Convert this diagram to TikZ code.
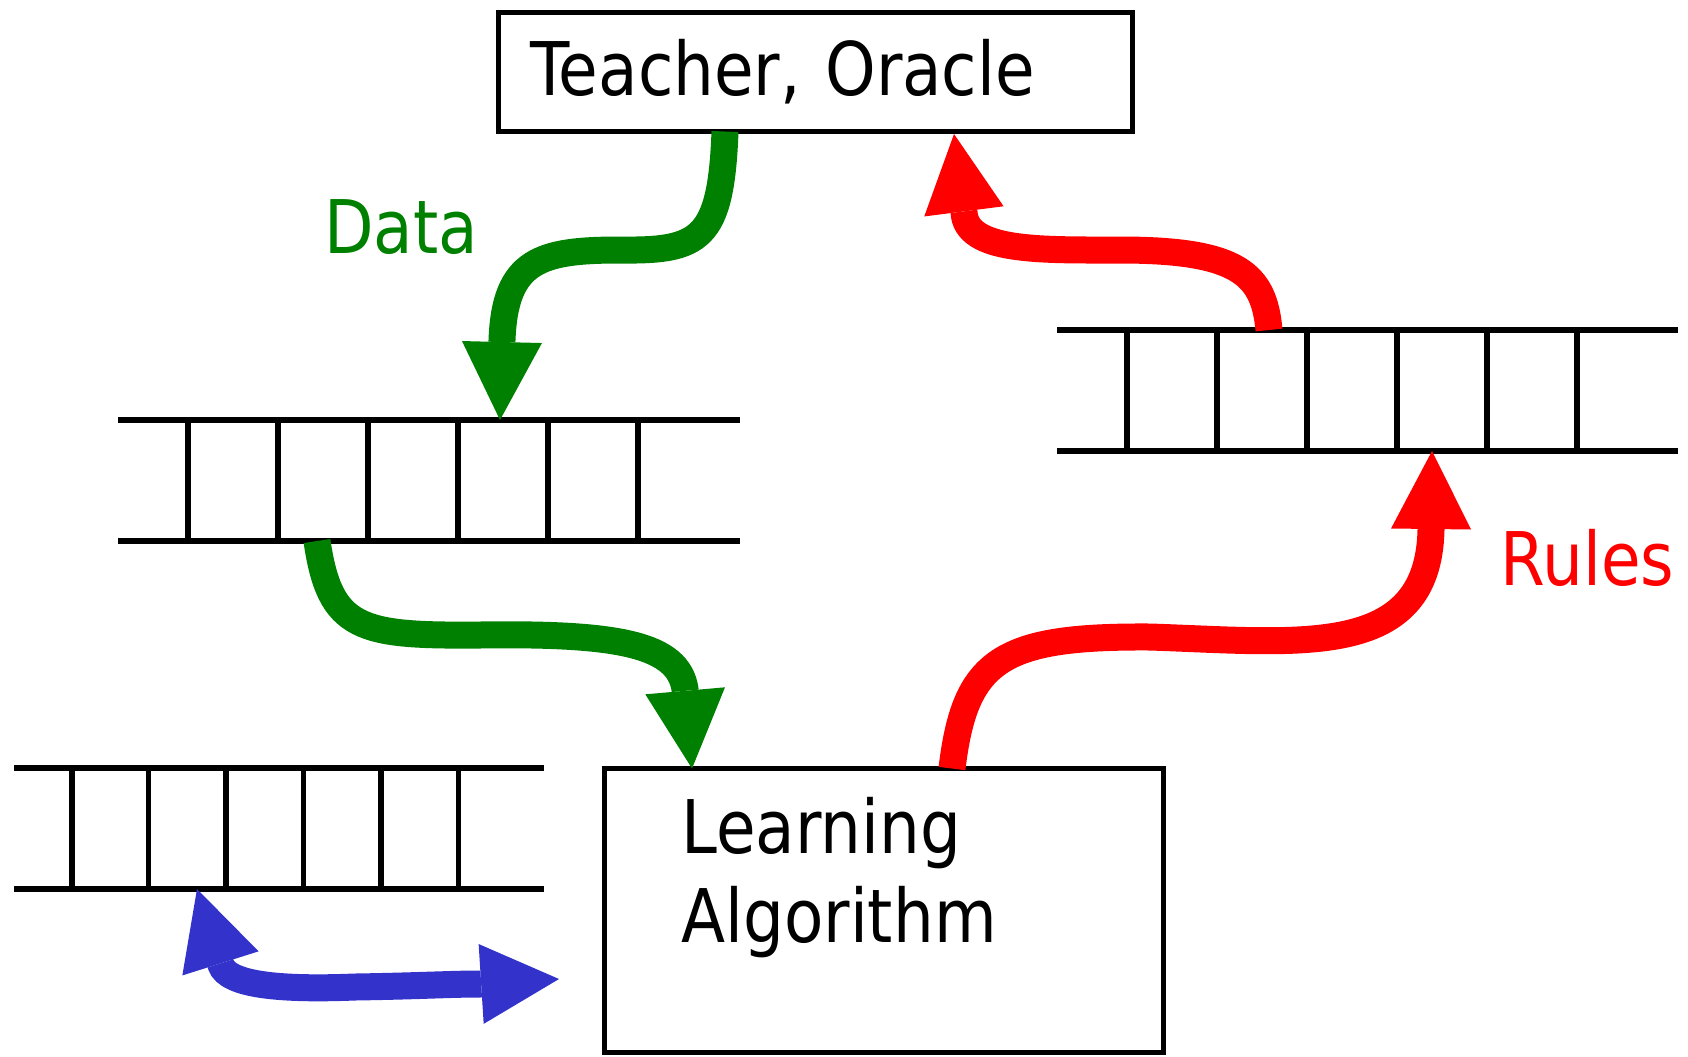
\documentclass[tikz,border=0pt]{standalone}
\usepackage{fontspec}
\newfontfamily\diagfont[FakeStretch=0.87]{DejaVu Sans}
\usetikzlibrary{arrows.meta}
\definecolor{datagreen}{RGB}{0,128,0}
\definecolor{rulered}{RGB}{255,0,0}
\definecolor{memblue}{RGB}{51,51,204}

\begin{document}
\begin{tikzpicture}[x=0.5pt, y=-0.5pt,
    box/.style={draw, line width=2.5pt, inner sep=0pt, outer sep=0pt},
    queue/.style={inner sep=0pt, outer sep=0pt, minimum height=60.5pt},
    rail/.style={line width=2.75pt},
    flow/.style={line width=13.5pt, ->, >={Triangle[length=39pt, width=40pt, line width=0pt]}},
    txt/.style={font=\diagfont\fontsize{37pt}{44.2pt}\selectfont, inner sep=0pt}]
    \useasboundingbox (0,0) rectangle (1688,1056);

    \node[box, txt, inner xsep=16pt, anchor=north west, minimum width=316.75pt, minimum height=59.5pt, text width=284.75pt, align=left] (teacher) at (498.5,12.5) {Teacher, Oracle};
    \node[box, anchor=north west, minimum width=279.5pt, minimum height=141.75pt] (learner) at (604,768.5) {};
    \node[txt, anchor=base west, align=left] (learntext) at (681,942) {Learning\\Algorithm};

    \node[queue, anchor=north west, minimum width=311pt] (queue1) at (118,420) {};
    \draw[rail] (queue1.north west) -- (queue1.north east);
    \draw[rail] (queue1.south west) -- (queue1.south east);
    \draw[rail] ([xshift=35pt]queue1.north west) -- ([xshift=35pt]queue1.south west);
    \draw[rail] ([xshift=80pt]queue1.north west) -- ([xshift=80pt]queue1.south west);
    \draw[rail] ([xshift=125pt]queue1.north west) -- ([xshift=125pt]queue1.south west);
    \draw[rail] ([xshift=170pt]queue1.north west) -- ([xshift=170pt]queue1.south west);
    \draw[rail] ([xshift=215pt]queue1.north west) -- ([xshift=215pt]queue1.south west);
    \draw[rail] ([xshift=260pt]queue1.north west) -- ([xshift=260pt]queue1.south west);

    \node[queue, anchor=north west, minimum width=310.5pt] (queue2) at (1057,330) {};
    \draw[rail] (queue2.north west) -- (queue2.north east);
    \draw[rail] (queue2.south west) -- (queue2.south east);
    \draw[rail] ([xshift=35pt]queue2.north west) -- ([xshift=35pt]queue2.south west);
    \draw[rail] ([xshift=80pt]queue2.north west) -- ([xshift=80pt]queue2.south west);
    \draw[rail] ([xshift=125pt]queue2.north west) -- ([xshift=125pt]queue2.south west);
    \draw[rail] ([xshift=170pt]queue2.north west) -- ([xshift=170pt]queue2.south west);
    \draw[rail] ([xshift=215pt]queue2.north west) -- ([xshift=215pt]queue2.south west);
    \draw[rail] ([xshift=260pt]queue2.north west) -- ([xshift=260pt]queue2.south west);

    \node[queue, anchor=north west, minimum width=265pt] (queue3) at (14,768) {};
    \draw[rail] (queue3.north west) -- (queue3.north east);
    \draw[rail] (queue3.south west) -- (queue3.south east);
    \draw[rail] ([xshift=29pt]queue3.north west) -- ([xshift=29pt]queue3.south west);
    \draw[rail] ([xshift=67.25pt]queue3.north west) -- ([xshift=67.25pt]queue3.south west);
    \draw[rail] ([xshift=106pt]queue3.north west) -- ([xshift=106pt]queue3.south west);
    \draw[rail] ([xshift=144.75pt]queue3.north west) -- ([xshift=144.75pt]queue3.south west);
    \draw[rail] ([xshift=183.5pt]queue3.north west) -- ([xshift=183.5pt]queue3.south west);
    \draw[rail] ([xshift=222.25pt]queue3.north west) -- ([xshift=222.25pt]queue3.south west);

    \node[txt, text=datagreen, anchor=base west] (datalabel) at (324,253) {Data};
    \node[txt, text=rulered, anchor=base west] (ruleslabel) at (1500,585) {Rules};
    \coordinate (memport) at (559,979);

    \draw[flow, datagreen] ([xshift=113.25pt]teacher.south west) .. controls (721,240) and (700,251) .. (620,250) .. controls (540,250) and (505,260) .. (502,340) -- ([xshift=191pt]queue1.north west);
    \draw[flow, datagreen] ([xshift=99.5pt]queue1.south west) .. controls (330,630) and (360,636) .. (480,635) .. controls (620,633) and (678,645) .. (685,689) -- ([xshift=44pt]learner.north west);
    \draw[flow, rulered] ([xshift=174pt]learner.north west) .. controls (965,660) and (1000,636) .. (1150,637) .. controls (1300,642) and (1428,660) .. (1431,530) -- ([xshift=187.5pt]queue2.south west);
    \draw[flow, rulered] ([xshift=106pt]queue2.north west) .. controls (1264,275) and (1240,250) .. (1120,250) .. controls (1040,250) and (966,252) .. (964,212) -- ([xshift=227.75pt, yshift=-1.25pt]teacher.south west);
    \draw[flow, memblue, <->] ([xshift=91.5pt]queue3.south west) -- (221,965) .. controls (228,985) and (280,990) .. (355,987) .. controls (420,986) and (450,984) .. (480,984) -- (memport);
\end{tikzpicture}
\end{document}
